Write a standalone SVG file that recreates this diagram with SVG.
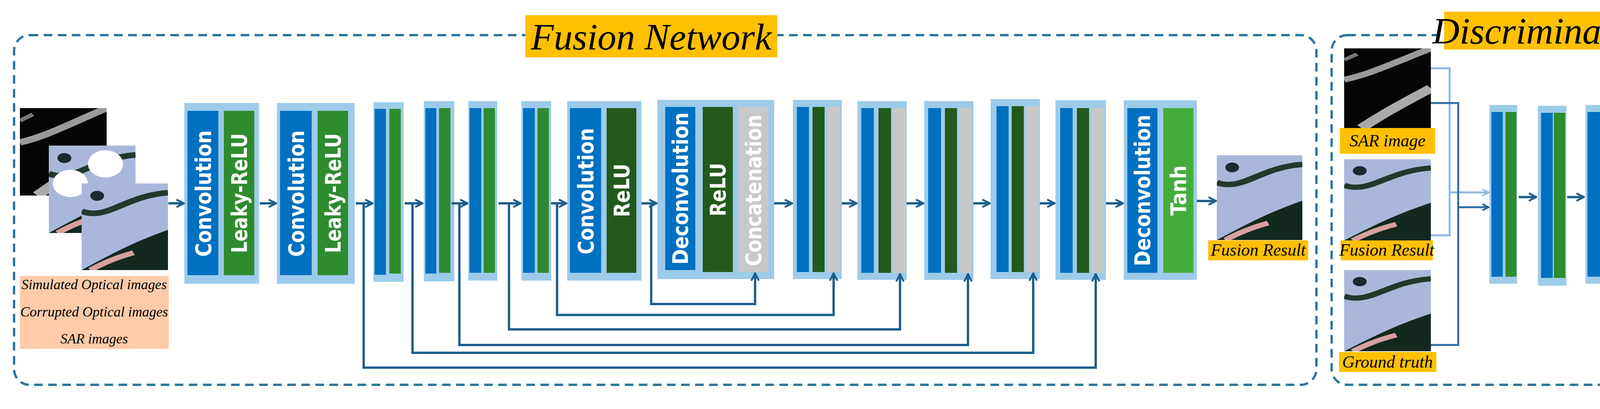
<svg xmlns="http://www.w3.org/2000/svg" width="4731" height="1048" viewBox="0 0 4731 1048">
<style>
.bd{fill:none;stroke:#2E75A0;stroke-width:6;stroke-dasharray:22 14}
.ot{fill:#9DCBEA}.bl{fill:#0070C0}.gr{fill:#2E8B2E}.dg{fill:#235A1C}.gy{fill:#C8C8C8}.lg{fill:#44AD3A}
.vt{font-family:"DejaVu Sans",sans-serif;font-weight:bold;font-size:56px;fill:#fff;text-anchor:middle;dominant-baseline:central}
.ttl{font-family:"Liberation Serif",serif;font-style:italic;font-size:96px;fill:#000;text-anchor:middle}
.lbl{font-family:"Liberation Serif",serif;font-style:italic;font-size:44px;fill:#000;text-anchor:middle}
.pk{font-family:"Liberation Serif",serif;font-style:italic;font-size:36px;fill:#000;text-anchor:middle}
.org{fill:#FFC000}
.cn{fill:none;stroke:#1F5F8B;stroke-width:6}
.cl{fill:none;stroke:#8DB8E0;stroke-width:5}
.cd{fill:none;stroke:#2E6DA8;stroke-width:5}
</style>
<defs>
<marker id="ah" viewBox="0 0 10 10" refX="9" refY="5" markerWidth="4" markerHeight="4" orient="auto" markerUnits="strokeWidth"><path d="M1,1 L9,5 L1,9" fill="none" stroke="#1F5F8B" stroke-width="2"/></marker>
<marker id="ahl" viewBox="0 0 10 10" refX="9" refY="5" markerWidth="4" markerHeight="4" orient="auto" markerUnits="strokeWidth"><path d="M1,1 L9,5 L1,9" fill="none" stroke="#8DB8E0" stroke-width="2"/></marker>
<symbol id="sar" viewBox="0 0 100 140" preserveAspectRatio="none"><rect width="100" height="140" fill="#050505"/><path d="M0,55 C30,45 50,30 100,0" stroke="#9a9a9a" stroke-width="10" fill="none"/><path d="M20,140 C50,110 70,95 100,70" stroke="#aaaaaa" stroke-width="14" fill="none"/><path d="M0,20 L15,10" stroke="#777" stroke-width="6"/></symbol>
<symbol id="opt" viewBox="0 0 100 140" preserveAspectRatio="none"><rect width="100" height="140" fill="#A9B8DA"/><path d="M0,45 C30,60 50,20 100,15" stroke="#1f3a2a" stroke-width="9" fill="none"/><path d="M0,140 C40,110 60,95 100,75 L100,140 Z" fill="#13281f"/><path d="M10,140 C30,125 45,118 60,112" stroke="#d8a0a0" stroke-width="8" fill="none"/><circle cx="18" cy="20" r="8" fill="#1a2a30"/></symbol>
</defs>
<g id="fusion-frame"><rect class="bd" x="36" y="90" width="3334" height="896" rx="40"/><rect class="org" x="1345" y="39" width="645" height="108"/><text class="ttl" x="1667" y="127">Fusion Network</text></g>
<g id="disc-frame"><rect class="bd" x="3409" y="90" width="1273" height="896" rx="40"/><rect class="org" x="3697" y="30" width="860" height="97"/><text class="ttl" x="4127" y="112">Discriminative Network</text></g>
<g id="inputs"><use href="#sar" x="51" y="277" width="222" height="224"/><use href="#opt" x="125" y="373" width="222" height="224"/><ellipse cx="270" cy="420" rx="45" ry="35" fill="#fff"/><ellipse cx="180" cy="470" rx="45" ry="35" fill="#fff"/><use href="#opt" x="209" y="470" width="221" height="222"/>
<rect x="51" y="707" width="381" height="187" fill="#FFCBA8"/><text class="pk" x="241" y="741">Simulated Optical images</text><text class="pk" x="241" y="811">Corrupted Optical images</text><text class="pk" x="241" y="880">SAR images</text></g>
<g id="b1"><rect class="ot" x="472" y="264" width="191" height="463"/><rect class="bl" x="480" y="284" width="79" height="421"/><rect class="gr" x="573" y="284" width="78" height="421"/><text class="vt" transform="translate(520,496) rotate(-90)" textLength="324" lengthAdjust="spacingAndGlyphs">Convolution</text><text class="vt" transform="translate(612,495) rotate(-90)" textLength="307" lengthAdjust="spacingAndGlyphs">Leaky-ReLU</text></g>
<g id="b2"><rect class="ot" x="709" y="264" width="199" height="463"/><rect class="bl" x="717" y="284" width="81" height="421"/><rect class="gr" x="813" y="284" width="78" height="421"/><text class="vt" transform="translate(758,496) rotate(-90)" textLength="324" lengthAdjust="spacingAndGlyphs">Convolution</text><text class="vt" transform="translate(852,495) rotate(-90)" textLength="307" lengthAdjust="spacingAndGlyphs">Leaky-ReLU</text></g>
<g id="b3"><rect class="ot" x="956" y="262" width="77" height="460"/><rect class="bl" x="959" y="279" width="29" height="425"/><rect class="gr" x="997" y="279" width="29" height="422"/></g>
<g id="b4"><rect class="ot" x="1085" y="259" width="78" height="462"/><rect class="bl" x="1089" y="277" width="28" height="424"/><rect class="gr" x="1124" y="277" width="29" height="422"/></g>
<g id="b5"><rect class="ot" x="1199" y="259" width="74" height="460"/><rect class="bl" x="1202" y="277" width="30" height="422"/><rect class="gr" x="1238" y="277" width="29" height="422"/></g>
<g id="b6"><rect class="ot" x="1335" y="259" width="76" height="460"/><rect class="bl" x="1339" y="277" width="30" height="422"/><rect class="gr" x="1376" y="277" width="29" height="422"/></g>
<g id="b7"><rect class="ot" x="1452" y="259" width="190" height="460"/><rect class="bl" x="1459" y="277" width="80" height="422"/><rect class="dg" x="1553" y="277" width="76" height="422"/><text class="vt" transform="translate(1499,490) rotate(-90)" textLength="324" lengthAdjust="spacingAndGlyphs">Convolution</text><text class="vt" transform="translate(1591,488) rotate(-90)" textLength="137" lengthAdjust="spacingAndGlyphs">ReLU</text></g>
<g id="b8"><rect class="ot" x="1683" y="256" width="299" height="459"/><rect class="bl" x="1703" y="274" width="77" height="418"/><rect class="dg" x="1799" y="274" width="77" height="423"/><rect class="gy" x="1890" y="274" width="77" height="423"/><text class="vt" transform="translate(1741,483) rotate(-90)" textLength="390" lengthAdjust="spacingAndGlyphs">Deconvolution</text><text class="vt" transform="translate(1837,486) rotate(-90)" textLength="137" lengthAdjust="spacingAndGlyphs">ReLU</text><text class="vt" transform="translate(1928,488) rotate(-90)" textLength="388" lengthAdjust="spacingAndGlyphs">Concatenation</text></g>
<g id="b9"><rect class="ot" x="2030" y="256" width="125" height="459"/><rect class="bl" x="2040" y="274" width="31" height="423"/><rect class="dg" x="2080" y="274" width="31" height="423"/><rect class="gy" x="2117" y="274" width="34" height="423"/></g>
<g id="b10"><rect class="ot" x="2195" y="259" width="126" height="458"/><rect class="bl" x="2205" y="277" width="32" height="422"/><rect class="dg" x="2249" y="277" width="32" height="422"/><rect class="gy" x="2285" y="277" width="33" height="422"/></g>
<g id="b11"><rect class="ot" x="2366" y="259" width="126" height="458"/><rect class="bl" x="2376" y="277" width="33" height="422"/><rect class="dg" x="2419" y="277" width="31" height="422"/><rect class="gy" x="2455" y="277" width="32" height="422"/></g>
<g id="b12"><rect class="ot" x="2536" y="254" width="126" height="461"/><rect class="bl" x="2551" y="272" width="31" height="425"/><rect class="dg" x="2590" y="272" width="31" height="425"/><rect class="gy" x="2625" y="272" width="34" height="425"/></g>
<g id="b13"><rect class="ot" x="2702" y="257" width="129" height="460"/><rect class="bl" x="2714" y="277" width="32" height="422"/><rect class="dg" x="2757" y="277" width="31" height="422"/><rect class="gy" x="2794" y="277" width="32" height="422"/></g>
<g id="b14"><rect class="ot" x="2877" y="257" width="187" height="460"/><rect class="bl" x="2886" y="277" width="77" height="422"/><rect class="lg" x="2978" y="277" width="77" height="422"/><text class="vt" transform="translate(2924,488) rotate(-90)" textLength="388" lengthAdjust="spacingAndGlyphs">Deconvolution</text><text class="vt" transform="translate(3016,488) rotate(-90)" textLength="129" lengthAdjust="spacingAndGlyphs">Tanh</text></g>
<g id="fusion-result"><use href="#opt" x="3115" y="398" width="219" height="217"/><rect class="org" x="3093" y="616" width="256" height="51"/><text class="lbl" x="3221" y="655">Fusion Result</text></g>
<g id="disc-inputs"><use href="#sar" x="3441" y="124" width="222" height="204"/><rect class="org" x="3430" y="328" width="244" height="66"/><text class="lbl" x="3552" y="375">SAR image</text>
<use href="#opt" x="3441" y="408" width="222" height="208"/><rect class="org" x="3432" y="616" width="236" height="51"/><text class="lbl" x="3550" y="655">Fusion Result</text>
<use href="#opt" x="3441" y="692" width="222" height="208"/><rect class="org" x="3428" y="902" width="249" height="51"/><text class="lbl" x="3552" y="942">Ground truth</text></g>
<g id="d1"><rect class="ot" x="3813" y="269" width="71" height="458"/><rect class="bl" x="3818" y="287" width="29" height="422"/><rect class="gr" x="3854" y="287" width="28" height="422"/></g>
<g id="d2"><rect class="ot" x="3937" y="271" width="73" height="461"/><rect class="bl" x="3945" y="289" width="30" height="423"/><rect class="gr" x="3978" y="289" width="29" height="423"/></g>
<g id="d3"><rect class="ot" x="4059" y="269" width="97" height="458"/><rect class="bl" x="4064" y="287" width="39" height="422"/><rect class="gr" x="4110" y="287" width="40" height="422"/></g>
<g id="d4"><rect class="ot" x="4203" y="263" width="101" height="459"/><rect class="bl" x="4209" y="281" width="40" height="421"/><rect class="lg" x="4255" y="281" width="39" height="421"/></g>
<g id="tf"><rect x="4347" y="440" width="315" height="128" rx="30" fill="#fff" stroke="#6E9CC8" stroke-width="5"/><text x="4504" y="526" font-family="'Open Sans',sans-serif" font-size="52" text-anchor="middle" fill="#000">True/False</text></g>
<g id="connectors">
<path class="cn" marker-end="url(#ah)" d="M431,521H471"/>
<path class="cn" marker-end="url(#ah)" d="M665,521H707"/>
<path class="cn" marker-end="url(#ah)" d="M911,521H954"/>
<path class="cn" marker-end="url(#ah)" d="M1036,521H1082"/>
<path class="cn" marker-end="url(#ah)" d="M1156,521H1197"/>
<path class="cn" marker-end="url(#ah)" d="M1276,521H1333"/>
<path class="cn" marker-end="url(#ah)" d="M1411,521H1450"/>
<path class="cn" marker-end="url(#ah)" d="M1642,521H1681"/>
<path class="cn" marker-end="url(#ah)" d="M1982,521H2028"/>
<path class="cn" marker-end="url(#ah)" d="M2155,521H2193"/>
<path class="cn" marker-end="url(#ah)" d="M2321,521H2364"/>
<path class="cn" marker-end="url(#ah)" d="M2492,521H2534"/>
<path class="cn" marker-end="url(#ah)" d="M2662,521H2700"/>
<path class="cn" marker-end="url(#ah)" d="M2831,521H2875"/>
<path class="cn" marker-end="url(#ah)" d="M3064,515H3113"/>
<path class="cn" marker-end="url(#ah)" d="M931,521V942H2805V702"/>
<path class="cn" marker-end="url(#ah)" d="M1056,521V904H2645V700"/>
<path class="cn" marker-end="url(#ah)" d="M1176,521V884H2478V702"/>
<path class="cn" marker-end="url(#ah)" d="M1303,521V844H2304V702"/>
<path class="cn" marker-end="url(#ah)" d="M1426,521V807H2134V700"/>
<path class="cn" marker-end="url(#ah)" d="M1667,521V779H1933V700"/>
<path class="cl" d="M3663,175H3711V603H3663"/>
<path class="cl" marker-end="url(#ahl)" d="M3711,493H3811"/>
<path class="cd" d="M3663,264H3733V884H3663"/>
<path class="cd" marker-end="url(#ah)" d="M3733,531H3811"/>
<path class="cn" marker-end="url(#ah)" d="M3888,505H3933"/>
<path class="cn" marker-end="url(#ah)" d="M4012,505H4055"/>
<path class="cn" marker-end="url(#ah)" d="M4158,505H4200"/>
<path class="cn" marker-end="url(#ah)" d="M4304,505H4344"/>
</g>
</svg>
